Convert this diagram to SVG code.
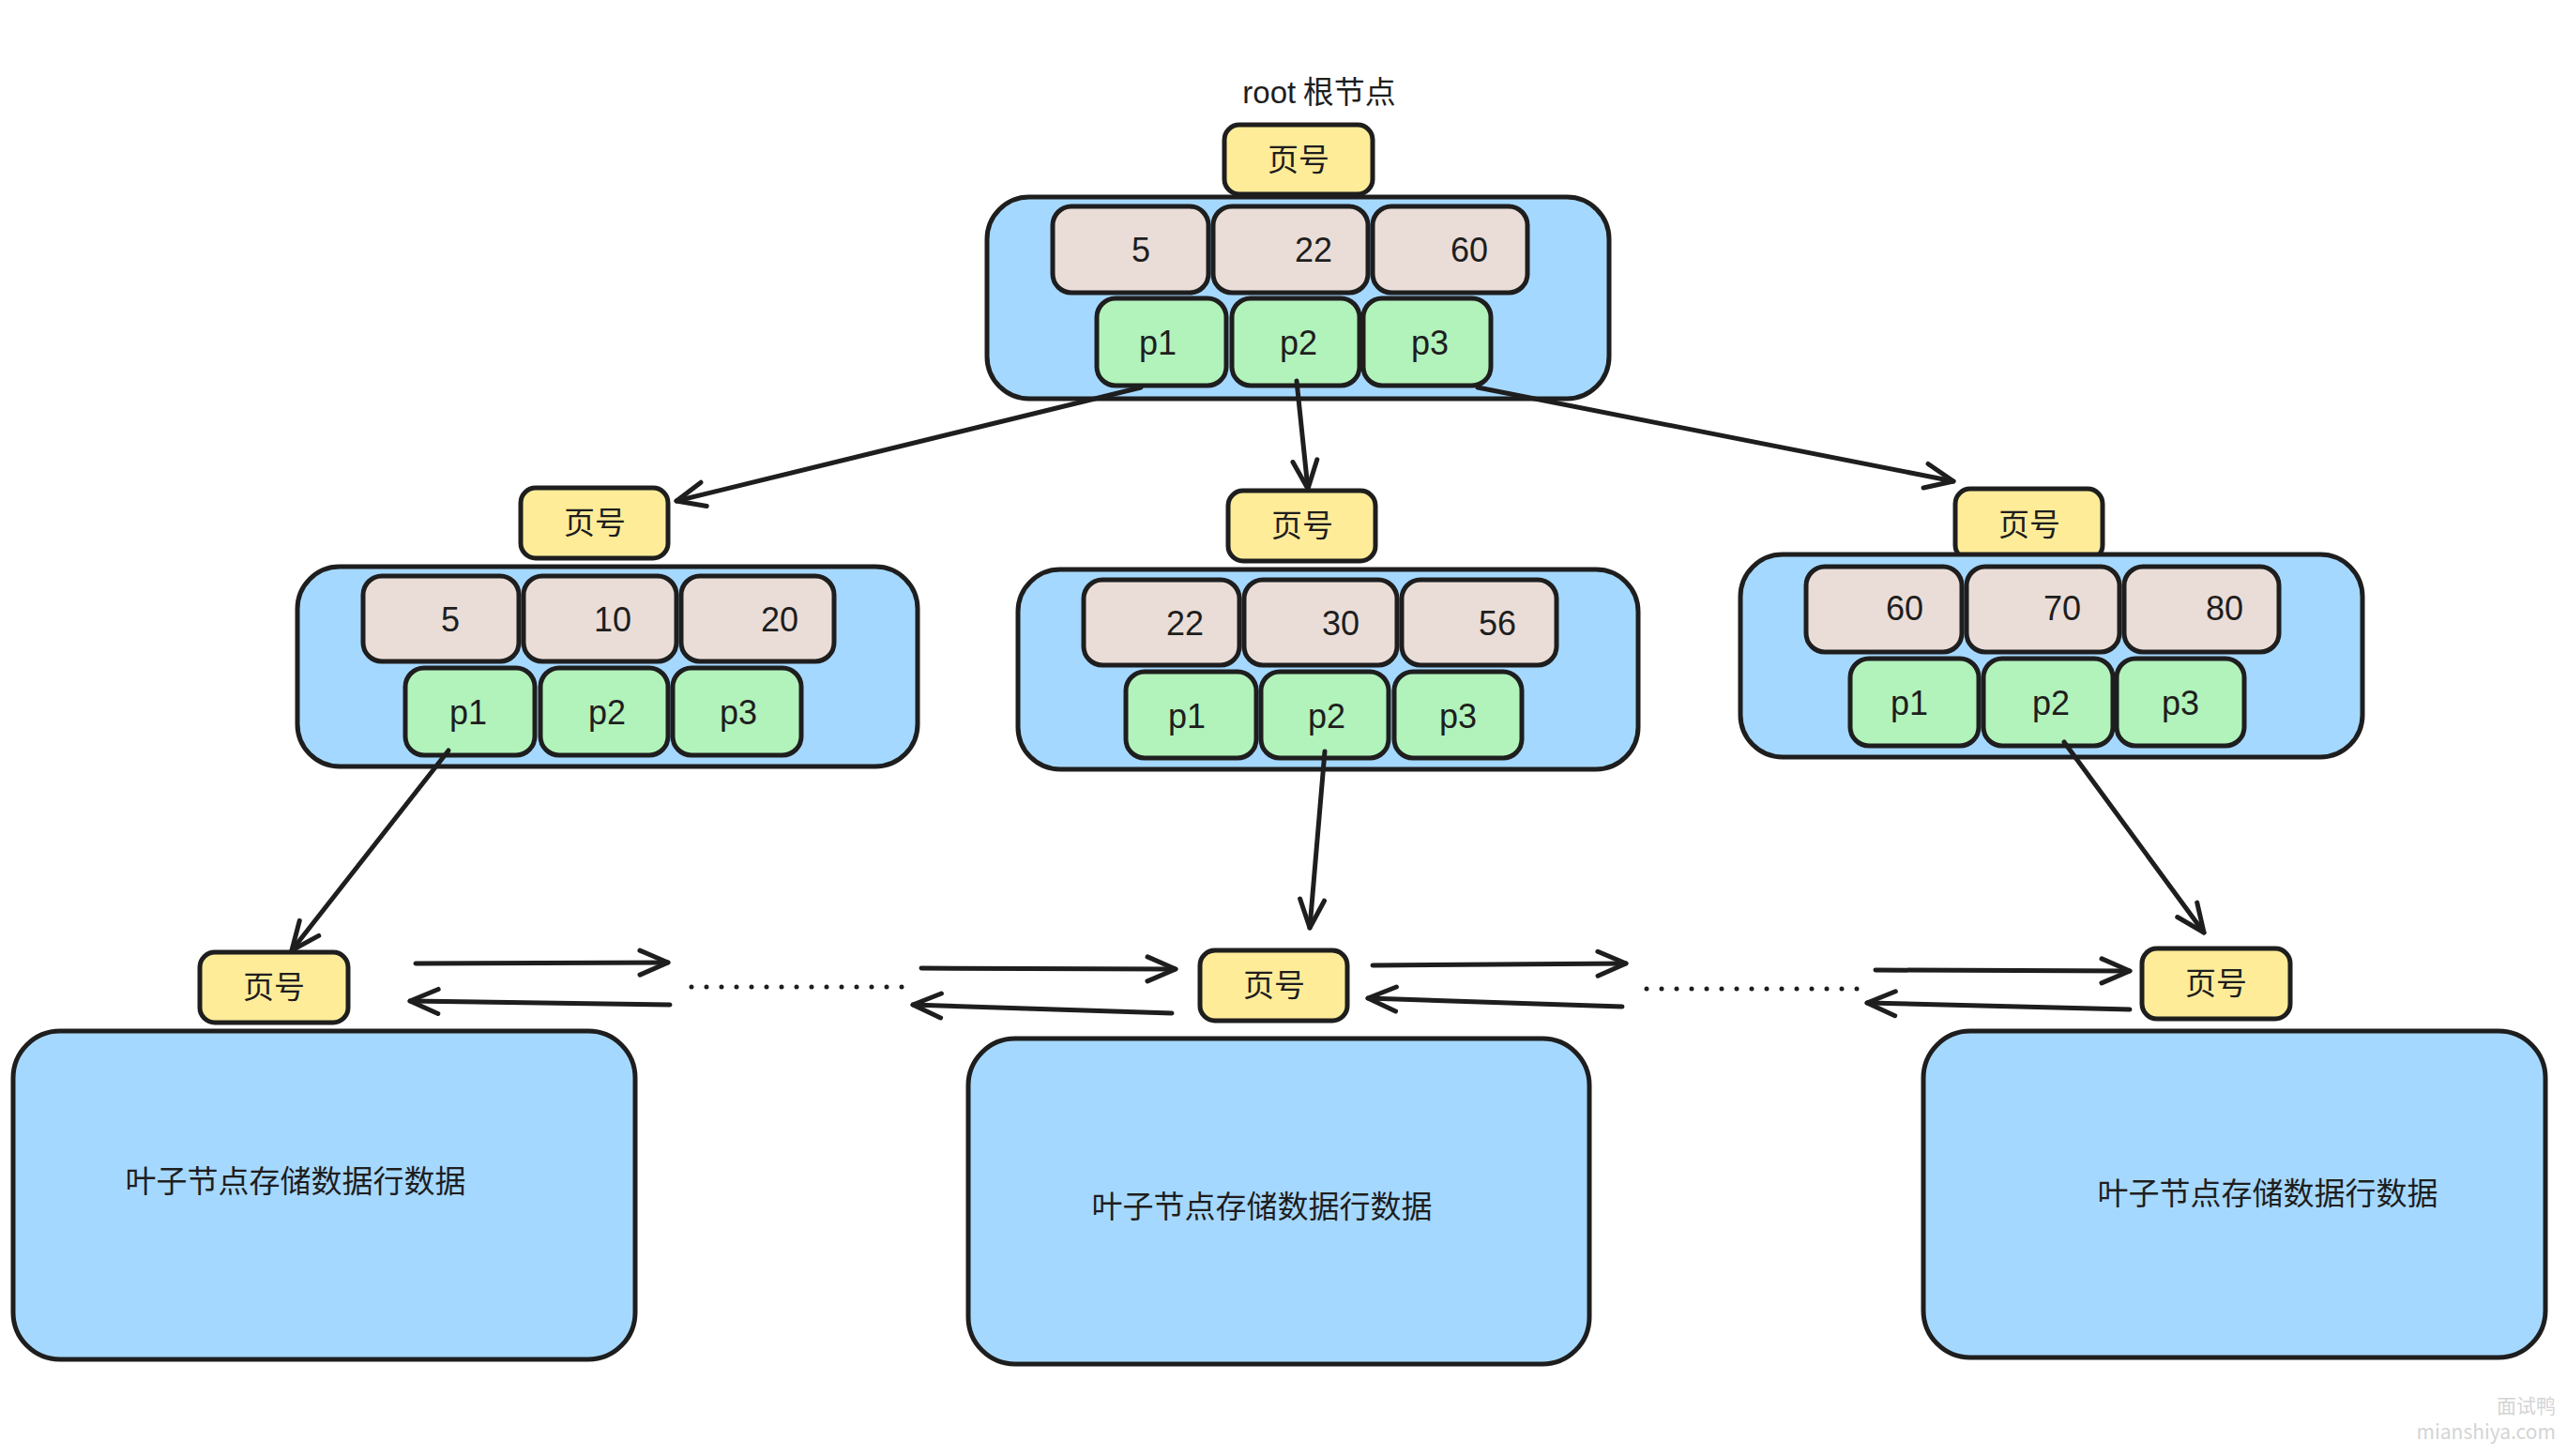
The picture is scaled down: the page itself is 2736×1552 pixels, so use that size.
<svg xmlns="http://www.w3.org/2000/svg" width="2736" height="1552" viewBox="0 0 2736 1552">
<style>
.c{fill:#a5d8ff;stroke:#1e1e1e;stroke-width:5}
.k{fill:#eaddd7;stroke:#1e1e1e;stroke-width:5}
.p{fill:#b2f2bb;stroke:#1e1e1e;stroke-width:5}
.y{fill:#ffec99;stroke:#1e1e1e;stroke-width:5}
.t{font-family:"Liberation Sans","DejaVu Sans",sans-serif;font-size:36px;fill:#1e1e1e;text-anchor:middle}
.cj{font-family:"Noto Sans CJK SC","Noto Sans",sans-serif;font-size:33px;fill:#1e1e1e;text-anchor:middle}
.e{fill:none;stroke:#1e1e1e;stroke-width:5;stroke-linecap:round}
.d{fill:none;stroke:#1e1e1e;stroke-width:5;stroke-linecap:round;stroke-dasharray:0 16}
.w{font-family:"Noto Sans CJK SC","Liberation Sans",sans-serif;font-size:21px;fill:#d4d4d4;text-anchor:end}
</style>
<defs>
<marker id="a" markerUnits="userSpaceOnUse" markerWidth="60" markerHeight="60" viewBox="-40 -30 50 60" refX="0" refY="0" orient="auto">
<path d="M -30 -13 L 0 0 L -30 13" fill="none" stroke="#1e1e1e" stroke-width="5" stroke-linecap="round" stroke-linejoin="round"/>
</marker>
</defs>
<rect width="2736" height="1552" fill="#ffffff"/>

<g id="root">
<text class="cj" x="1406" y="110"><tspan font-family="Liberation Sans, sans-serif">root</tspan> 根节点</text>
<rect class="y" x="1305" y="133" width="158" height="74" rx="16"/>
<text class="cj" x="1384" y="182">页号</text>
<rect class="c" x="1052" y="210" width="663" height="215" rx="45"/>
<rect class="k" x="1122" y="220" width="166" height="92" rx="20"/>
<rect class="k" x="1293" y="220" width="165" height="92" rx="20"/>
<rect class="k" x="1463" y="220" width="165" height="92" rx="20"/>
<text class="t" x="1216" y="279">5</text>
<text class="t" x="1400" y="279">22</text>
<text class="t" x="1566" y="279">60</text>
<rect class="p" x="1169" y="318" width="138" height="93" rx="20"/>
<rect class="p" x="1313" y="318" width="136" height="93" rx="20"/>
<rect class="p" x="1453" y="318" width="136" height="93" rx="20"/>
<text class="t" x="1234" y="378">p1</text>
<text class="t" x="1384" y="378">p2</text>
<text class="t" x="1524" y="378">p3</text>
</g>

<g id="inner-left">
<rect class="y" x="555" y="520" width="157" height="75" rx="16"/>
<text class="cj" x="634" y="569">页号</text>
<rect class="c" x="317" y="604" width="661" height="213" rx="45"/>
<rect class="k" x="387" y="614" width="166" height="91" rx="20"/>
<rect class="k" x="558" y="614" width="163" height="91" rx="20"/>
<rect class="k" x="726" y="614" width="163" height="91" rx="20"/>
<text class="t" x="480" y="673">5</text>
<text class="t" x="653" y="673">10</text>
<text class="t" x="831" y="673">20</text>
<rect class="p" x="432" y="712" width="138" height="93" rx="20"/>
<rect class="p" x="576" y="712" width="136" height="93" rx="20"/>
<rect class="p" x="717" y="712" width="137" height="93" rx="20"/>
<text class="t" x="499" y="772">p1</text>
<text class="t" x="647" y="772">p2</text>
<text class="t" x="787" y="772">p3</text>
</g>

<g id="inner-middle">
<rect class="y" x="1309" y="523" width="157" height="75" rx="16"/>
<text class="cj" x="1388" y="572">页号</text>
<rect class="c" x="1085" y="607" width="661" height="213" rx="45"/>
<rect class="k" x="1155" y="618" width="166" height="91" rx="20"/>
<rect class="k" x="1326" y="618" width="163" height="91" rx="20"/>
<rect class="k" x="1494" y="618" width="165" height="91" rx="20"/>
<text class="t" x="1263" y="677">22</text>
<text class="t" x="1429" y="677">30</text>
<text class="t" x="1596" y="677">56</text>
<rect class="p" x="1200" y="716" width="139" height="92" rx="20"/>
<rect class="p" x="1344" y="716" width="136" height="92" rx="20"/>
<rect class="p" x="1486" y="716" width="136" height="92" rx="20"/>
<text class="t" x="1265" y="776">p1</text>
<text class="t" x="1414" y="776">p2</text>
<text class="t" x="1554" y="776">p3</text>
</g>

<g id="inner-right">
<rect class="y" x="2084" y="521" width="157" height="76" rx="16"/>
<text class="cj" x="2163" y="571">页号</text>
<rect class="c" x="1855" y="591" width="663" height="216" rx="45"/>
<rect class="k" x="1925" y="604" width="166" height="91" rx="20"/>
<rect class="k" x="2096" y="604" width="163" height="91" rx="20"/>
<rect class="k" x="2264" y="604" width="165" height="91" rx="20"/>
<text class="t" x="2030" y="661">60</text>
<text class="t" x="2198" y="661">70</text>
<text class="t" x="2371" y="661">80</text>
<rect class="p" x="1972" y="702" width="137" height="93" rx="20"/>
<rect class="p" x="2114" y="702" width="138" height="93" rx="20"/>
<rect class="p" x="2256" y="702" width="136" height="93" rx="20"/>
<text class="t" x="2035" y="762">p1</text>
<text class="t" x="2186" y="762">p2</text>
<text class="t" x="2324" y="762">p3</text>
</g>

<g id="leaf-1">
<rect class="y" x="213" y="1015" width="158" height="75" rx="16"/>
<text class="cj" x="292" y="1064">页号</text>
<rect class="c" x="14" y="1099" width="663" height="350" rx="50"/>
<text class="cj" x="315" y="1271">叶子节点存储数据行数据</text>
</g>

<g id="leaf-2">
<rect class="y" x="1279" y="1013" width="157" height="75" rx="16"/>
<text class="cj" x="1358" y="1062">页号</text>
<rect class="c" x="1032" y="1107" width="662" height="347" rx="50"/>
<text class="cj" x="1345" y="1298">叶子节点存储数据行数据</text>
</g>

<g id="leaf-3">
<rect class="y" x="2283" y="1011" width="158" height="75" rx="16"/>
<text class="cj" x="2362" y="1060">页号</text>
<rect class="c" x="2050" y="1099" width="663" height="348" rx="50"/>
<text class="cj" x="2417" y="1284">叶子节点存储数据行数据</text>
</g>

<g id="connectors">
<path class="e" d="M 1216 413 L 721 534" marker-end="url(#a)"/>
<path class="e" d="M 1382 406 L 1394 521" marker-end="url(#a)"/>
<path class="e" d="M 1575 413 L 2082 513" marker-end="url(#a)"/>
<path class="e" d="M 478 800 L 311 1013" marker-end="url(#a)"/>
<path class="e" d="M 1412 801 L 1396 989" marker-end="url(#a)"/>
<path class="e" d="M 2200 791 L 2349 994" marker-end="url(#a)"/>
<path class="e" d="M 443 1027 L 712 1026" marker-end="url(#a)"/>
<path class="e" d="M 714 1071 L 437 1067" marker-end="url(#a)"/>
<path class="d" d="M 737 1052 L 968 1052"/>
<path class="e" d="M 982 1032 L 1253 1033" marker-end="url(#a)"/>
<path class="e" d="M 1249 1080 L 973 1071" marker-end="url(#a)"/>
<path class="e" d="M 1463 1029 L 1733 1027" marker-end="url(#a)"/>
<path class="e" d="M 1729 1073 L 1458 1064" marker-end="url(#a)"/>
<path class="d" d="M 1755 1054 L 1986 1054"/>
<path class="e" d="M 1999 1034 L 2270 1035" marker-end="url(#a)"/>
<path class="e" d="M 2270 1076 L 1990 1069" marker-end="url(#a)"/>
</g>

<g id="watermark">
<text class="w" x="2724" y="1506">面试鸭</text>
<text class="w" x="2724" y="1534" font-family="Liberation Sans, sans-serif">mianshiya.com</text>
</g>
</svg>
